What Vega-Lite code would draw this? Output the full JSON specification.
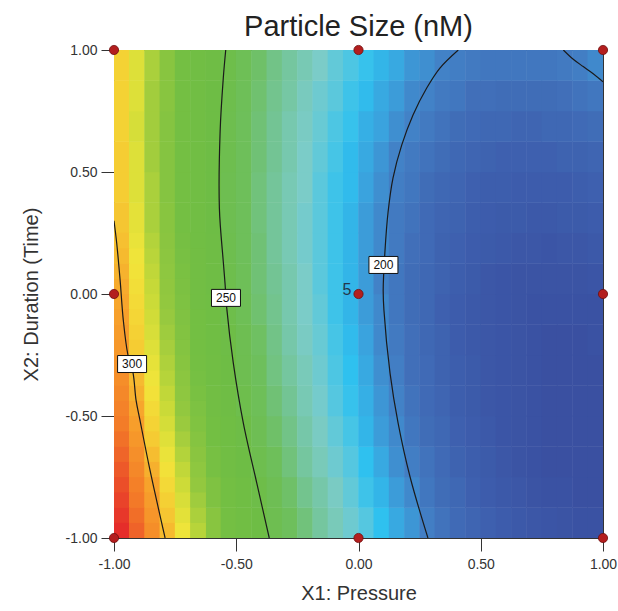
{
"$schema":"https://vega.github.io/schema/vega-lite/v6.json",
"width":489,"height":488,
"autosize":"none",
"padding":{"left":114,"top":50,"right":15,"bottom":73},
"background":"white",
"title":{"text":"Particle Size (nM)","font":"Liberation Sans","fontSize":29,"fontWeight":"normal","color":"#222222","anchor":"middle","frame":"group","offset":6,"baseline":"bottom","dy":34},
"config":{"view":{"stroke":"#333333","strokeWidth":1},
"axis":{"labelFont":"Liberation Sans","labelFontSize":14,"labelColor":"#333333","titleFont":"Liberation Sans","titleFontSize":20,"titleFontWeight":"normal","titleColor":"#333333","tickColor":"#333333","domainColor":"#333333","tickSize":13,"grid":false,"labelFlush":false,"labelOverlap":false}},
"datasets":{
"points":[{"x":-1,"y":-1},{"x":0,"y":-1},{"x":1,"y":-1},{"x":-1,"y":0},{"x":0,"y":0},{"x":1,"y":0},{"x":-1,"y":1},{"x":0,"y":1},{"x":1,"y":1}],
"runs":[{"x":0,"y":0,"t":"5"}],
"labels":[{"x":0.102,"y":0.119,"t":"200"},{"x":-0.542,"y":-0.016,"t":"250"},{"x":-0.926,"y":-0.287,"t":"300"}],
"contours":[
{"c":"a","o":0,"x":0.408,"y":1.0},{"c":"a","o":1,"x":0.333,"y":0.926},{"c":"a","o":2,"x":0.279,"y":0.844},{"c":"a","o":3,"x":0.223,"y":0.734},{"c":"a","o":4,"x":0.177,"y":0.611},{"c":"a","o":5,"x":0.141,"y":0.475},{"c":"a","o":6,"x":0.121,"y":0.336},{"c":"a","o":7,"x":0.108,"y":0.172},{"c":"a","o":8,"x":0.101,"y":0.016},{"c":"a","o":9,"x":0.104,"y":-0.066},{"c":"a","o":10,"x":0.129,"y":-0.324},{"c":"a","o":11,"x":0.162,"y":-0.529},{"c":"a","o":12,"x":0.211,"y":-0.75},{"c":"a","o":13,"x":0.284,"y":-1.0},
{"c":"b","o":0,"x":0.838,"y":1.0},{"c":"b","o":1,"x":0.877,"y":0.963},{"c":"b","o":2,"x":0.919,"y":0.932},{"c":"b","o":3,"x":0.96,"y":0.903},{"c":"b","o":4,"x":1.0,"y":0.87},
{"c":"c","o":0,"x":-0.543,"y":1.0},{"c":"c","o":1,"x":-0.553,"y":0.885},{"c":"c","o":2,"x":-0.566,"y":0.665},{"c":"c","o":3,"x":-0.569,"y":0.352},{"c":"c","o":4,"x":-0.553,"y":0.132},{"c":"c","o":5,"x":-0.546,"y":0.045},{"c":"c","o":6,"x":-0.539,"y":-0.057},{"c":"c","o":7,"x":-0.512,"y":-0.283},{"c":"c","o":8,"x":-0.471,"y":-0.529},{"c":"c","o":9,"x":-0.416,"y":-0.775},{"c":"c","o":10,"x":-0.365,"y":-1.0},
{"c":"d","o":0,"x":-1.0,"y":0.3},{"c":"d","o":1,"x":-0.989,"y":0.209},{"c":"d","o":2,"x":-0.975,"y":0.057},{"c":"d","o":3,"x":-0.962,"y":-0.107},{"c":"d","o":4,"x":-0.943,"y":-0.25},{"c":"d","o":5,"x":-0.922,"y":-0.324},{"c":"d","o":6,"x":-0.91,"y":-0.434},{"c":"d","o":7,"x":-0.894,"y":-0.516},{"c":"d","o":8,"x":-0.853,"y":-0.721},{"c":"d","o":9,"x":-0.791,"y":-1.0}
],
"fine":[
{"x":-0.96875,"y":-0.96875,"z":323.7},{"x":-0.90625,"y":-0.96875,"z":314.8},{"x":-0.84375,"y":-0.96875,"z":306.1},{"x":-0.78125,"y":-0.96875,"z":297.7},{"x":-0.71875,"y":-0.96875,"z":289.5},{"x":-0.65625,"y":-0.96875,"z":281.7},
{"x":-0.96875,"y":-0.90625,"z":321.9},{"x":-0.90625,"y":-0.90625,"z":313.0},{"x":-0.84375,"y":-0.90625,"z":304.3},{"x":-0.78125,"y":-0.90625,"z":296.0},{"x":-0.71875,"y":-0.90625,"z":287.9},{"x":-0.65625,"y":-0.90625,"z":280.1},
{"x":-0.96875,"y":-0.84375,"z":320.1},{"x":-0.90625,"y":-0.84375,"z":311.2},{"x":-0.84375,"y":-0.84375,"z":302.6},{"x":-0.78125,"y":-0.84375,"z":294.3},{"x":-0.71875,"y":-0.84375,"z":286.2},{"x":-0.65625,"y":-0.84375,"z":278.5},
{"x":-0.96875,"y":-0.78125,"z":318.3},{"x":-0.90625,"y":-0.78125,"z":309.4},{"x":-0.84375,"y":-0.78125,"z":300.8},{"x":-0.78125,"y":-0.78125,"z":292.5},{"x":-0.71875,"y":-0.78125,"z":284.6},{"x":-0.65625,"y":-0.78125,"z":276.9},
{"x":-0.96875,"y":-0.71875,"z":316.4},{"x":-0.90625,"y":-0.71875,"z":307.5},{"x":-0.84375,"y":-0.71875,"z":299.0},{"x":-0.78125,"y":-0.71875,"z":290.8},{"x":-0.71875,"y":-0.71875,"z":282.9},{"x":-0.65625,"y":-0.71875,"z":275.3},
{"x":-0.96875,"y":-0.65625,"z":314.4},{"x":-0.90625,"y":-0.65625,"z":305.7},{"x":-0.84375,"y":-0.65625,"z":297.2},{"x":-0.78125,"y":-0.65625,"z":289.0},{"x":-0.71875,"y":-0.65625,"z":281.2},{"x":-0.65625,"y":-0.65625,"z":273.7},
{"x":-0.96875,"y":-0.59375,"z":312.4},{"x":-0.90625,"y":-0.59375,"z":303.8},{"x":-0.84375,"y":-0.59375,"z":295.3},{"x":-0.78125,"y":-0.59375,"z":287.3},{"x":-0.71875,"y":-0.59375,"z":279.5},{"x":-0.65625,"y":-0.59375,"z":271.9},
{"x":-0.96875,"y":-0.53125,"z":310.6},{"x":-0.90625,"y":-0.53125,"z":302.0},{"x":-0.84375,"y":-0.53125,"z":293.7},{"x":-0.78125,"y":-0.53125,"z":285.7},{"x":-0.71875,"y":-0.53125,"z":277.9},{"x":-0.65625,"y":-0.53125,"z":270.4},
{"x":-0.96875,"y":-0.46875,"z":308.9},{"x":-0.90625,"y":-0.46875,"z":300.4},{"x":-0.84375,"y":-0.46875,"z":292.2},{"x":-0.78125,"y":-0.46875,"z":284.2},{"x":-0.71875,"y":-0.46875,"z":276.5},{"x":-0.65625,"y":-0.46875,"z":269.1},
{"x":-0.96875,"y":-0.40625,"z":307.4},{"x":-0.90625,"y":-0.40625,"z":298.9},{"x":-0.84375,"y":-0.40625,"z":290.8},{"x":-0.78125,"y":-0.40625,"z":282.9},{"x":-0.71875,"y":-0.40625,"z":275.2},{"x":-0.65625,"y":-0.40625,"z":267.9},
{"x":-0.96875,"y":-0.34375,"z":306.1},{"x":-0.90625,"y":-0.34375,"z":297.6},{"x":-0.84375,"y":-0.34375,"z":289.5},{"x":-0.78125,"y":-0.34375,"z":281.6},{"x":-0.71875,"y":-0.34375,"z":274.0},{"x":-0.65625,"y":-0.34375,"z":266.8},
{"x":-0.96875,"y":-0.28125,"z":304.8},{"x":-0.90625,"y":-0.28125,"z":296.3},{"x":-0.84375,"y":-0.28125,"z":288.3},{"x":-0.78125,"y":-0.28125,"z":280.5},{"x":-0.71875,"y":-0.28125,"z":272.9},{"x":-0.65625,"y":-0.28125,"z":265.7},
{"x":-0.96875,"y":-0.21875,"z":303.5},{"x":-0.90625,"y":-0.21875,"z":295.2},{"x":-0.84375,"y":-0.21875,"z":287.2},{"x":-0.78125,"y":-0.21875,"z":279.4},{"x":-0.71875,"y":-0.21875,"z":271.8},{"x":-0.65625,"y":-0.21875,"z":264.7},
{"x":-0.96875,"y":-0.15625,"z":302.4},{"x":-0.90625,"y":-0.15625,"z":294.1},{"x":-0.84375,"y":-0.15625,"z":286.1},{"x":-0.78125,"y":-0.15625,"z":278.4},{"x":-0.71875,"y":-0.15625,"z":270.9},{"x":-0.65625,"y":-0.15625,"z":263.8},
{"x":-0.96875,"y":-0.09375,"z":301.4},{"x":-0.90625,"y":-0.09375,"z":293.2},{"x":-0.84375,"y":-0.09375,"z":285.2},{"x":-0.78125,"y":-0.09375,"z":277.5},{"x":-0.71875,"y":-0.09375,"z":270.1},{"x":-0.65625,"y":-0.09375,"z":263.0},
{"x":-0.96875,"y":-0.03125,"z":300.5},{"x":-0.90625,"y":-0.03125,"z":292.3},{"x":-0.84375,"y":-0.03125,"z":284.3},{"x":-0.78125,"y":-0.03125,"z":276.7},{"x":-0.71875,"y":-0.03125,"z":269.4},{"x":-0.65625,"y":-0.03125,"z":262.3},
{"x":-0.96875,"y":0.03125,"z":299.7},{"x":-0.90625,"y":0.03125,"z":291.5},{"x":-0.84375,"y":0.03125,"z":283.6},{"x":-0.78125,"y":0.03125,"z":276.0},{"x":-0.71875,"y":0.03125,"z":268.7},{"x":-0.65625,"y":0.03125,"z":261.7},
{"x":-0.96875,"y":0.09375,"z":298.8},{"x":-0.90625,"y":0.09375,"z":290.6},{"x":-0.84375,"y":0.09375,"z":282.8},{"x":-0.78125,"y":0.09375,"z":275.3},{"x":-0.71875,"y":0.09375,"z":268.0},{"x":-0.65625,"y":0.09375,"z":261.1},
{"x":-0.96875,"y":0.15625,"z":297.7},{"x":-0.90625,"y":0.15625,"z":289.7},{"x":-0.84375,"y":0.15625,"z":281.9},{"x":-0.78125,"y":0.15625,"z":274.5},{"x":-0.71875,"y":0.15625,"z":267.3},{"x":-0.65625,"y":0.15625,"z":260.4},
{"x":-0.96875,"y":0.21875,"z":296.8},{"x":-0.90625,"y":0.21875,"z":288.8},{"x":-0.84375,"y":0.21875,"z":281.1},{"x":-0.78125,"y":0.21875,"z":273.8},{"x":-0.71875,"y":0.21875,"z":266.6},{"x":-0.65625,"y":0.21875,"z":259.9}
],
"grid":[
{"x":-0.96875,"y":-0.9375,"z":323},{"x":-0.90625,"y":-0.9375,"z":314},{"x":-0.84375,"y":-0.9375,"z":305},{"x":-0.78125,"y":-0.9375,"z":297},{"x":-0.71875,"y":-0.9375,"z":289},{"x":-0.65625,"y":-0.9375,"z":281},{"x":-0.59375,"y":-0.9375,"z":273},{"x":-0.53125,"y":-0.9375,"z":266},{"x":-0.46875,"y":-0.9375,"z":259},{"x":-0.40625,"y":-0.9375,"z":253},{"x":-0.34375,"y":-0.9375,"z":246},{"x":-0.28125,"y":-0.9375,"z":240},{"x":-0.21875,"y":-0.9375,"z":235},{"x":-0.15625,"y":-0.9375,"z":229},{"x":-0.09375,"y":-0.9375,"z":224},{"x":-0.03125,"y":-0.9375,"z":219},{"x":0.03125,"y":-0.9375,"z":215},{"x":0.09375,"y":-0.9375,"z":210},{"x":0.15625,"y":-0.9375,"z":206},{"x":0.21875,"y":-0.9375,"z":203},{"x":0.28125,"y":-0.9375,"z":199},{"x":0.34375,"y":-0.9375,"z":196},{"x":0.40625,"y":-0.9375,"z":193},{"x":0.46875,"y":-0.9375,"z":191},{"x":0.53125,"y":-0.9375,"z":189},{"x":0.59375,"y":-0.9375,"z":187},{"x":0.65625,"y":-0.9375,"z":185},{"x":0.71875,"y":-0.9375,"z":184},{"x":0.78125,"y":-0.9375,"z":183},{"x":0.84375,"y":-0.9375,"z":182},{"x":0.90625,"y":-0.9375,"z":181},{"x":0.96875,"y":-0.9375,"z":181},
{"x":-0.96875,"y":-0.8125,"z":319},{"x":-0.90625,"y":-0.8125,"z":310},{"x":-0.84375,"y":-0.8125,"z":302},{"x":-0.78125,"y":-0.8125,"z":293},{"x":-0.71875,"y":-0.8125,"z":285},{"x":-0.65625,"y":-0.8125,"z":278},{"x":-0.59375,"y":-0.8125,"z":270},{"x":-0.53125,"y":-0.8125,"z":263},{"x":-0.46875,"y":-0.8125,"z":256},{"x":-0.40625,"y":-0.8125,"z":250},{"x":-0.34375,"y":-0.8125,"z":244},{"x":-0.28125,"y":-0.8125,"z":238},{"x":-0.21875,"y":-0.8125,"z":232},{"x":-0.15625,"y":-0.8125,"z":227},{"x":-0.09375,"y":-0.8125,"z":222},{"x":-0.03125,"y":-0.8125,"z":217},{"x":0.03125,"y":-0.8125,"z":212},{"x":0.09375,"y":-0.8125,"z":208},{"x":0.15625,"y":-0.8125,"z":204},{"x":0.21875,"y":-0.8125,"z":201},{"x":0.28125,"y":-0.8125,"z":197},{"x":0.34375,"y":-0.8125,"z":194},{"x":0.40625,"y":-0.8125,"z":192},{"x":0.46875,"y":-0.8125,"z":189},{"x":0.53125,"y":-0.8125,"z":187},{"x":0.59375,"y":-0.8125,"z":185},{"x":0.65625,"y":-0.8125,"z":184},{"x":0.71875,"y":-0.8125,"z":182},{"x":0.78125,"y":-0.8125,"z":181},{"x":0.84375,"y":-0.8125,"z":181},{"x":0.90625,"y":-0.8125,"z":180},{"x":0.96875,"y":-0.8125,"z":180},
{"x":-0.96875,"y":-0.6875,"z":315},{"x":-0.90625,"y":-0.6875,"z":307},{"x":-0.84375,"y":-0.6875,"z":298},{"x":-0.78125,"y":-0.6875,"z":290},{"x":-0.71875,"y":-0.6875,"z":282},{"x":-0.65625,"y":-0.6875,"z":274},{"x":-0.59375,"y":-0.6875,"z":267},{"x":-0.53125,"y":-0.6875,"z":260},{"x":-0.46875,"y":-0.6875,"z":253},{"x":-0.40625,"y":-0.6875,"z":247},{"x":-0.34375,"y":-0.6875,"z":241},{"x":-0.28125,"y":-0.6875,"z":235},{"x":-0.21875,"y":-0.6875,"z":229},{"x":-0.15625,"y":-0.6875,"z":224},{"x":-0.09375,"y":-0.6875,"z":219},{"x":-0.03125,"y":-0.6875,"z":215},{"x":0.03125,"y":-0.6875,"z":210},{"x":0.09375,"y":-0.6875,"z":206},{"x":0.15625,"y":-0.6875,"z":202},{"x":0.21875,"y":-0.6875,"z":199},{"x":0.28125,"y":-0.6875,"z":196},{"x":0.34375,"y":-0.6875,"z":193},{"x":0.40625,"y":-0.6875,"z":190},{"x":0.46875,"y":-0.6875,"z":188},{"x":0.53125,"y":-0.6875,"z":186},{"x":0.59375,"y":-0.6875,"z":184},{"x":0.65625,"y":-0.6875,"z":182},{"x":0.71875,"y":-0.6875,"z":181},{"x":0.78125,"y":-0.6875,"z":180},{"x":0.84375,"y":-0.6875,"z":180},{"x":0.90625,"y":-0.6875,"z":180},{"x":0.96875,"y":-0.6875,"z":180},
{"x":-0.96875,"y":-0.5625,"z":311},{"x":-0.90625,"y":-0.5625,"z":303},{"x":-0.84375,"y":-0.5625,"z":294},{"x":-0.78125,"y":-0.5625,"z":286},{"x":-0.71875,"y":-0.5625,"z":279},{"x":-0.65625,"y":-0.5625,"z":271},{"x":-0.59375,"y":-0.5625,"z":264},{"x":-0.53125,"y":-0.5625,"z":257},{"x":-0.46875,"y":-0.5625,"z":251},{"x":-0.40625,"y":-0.5625,"z":244},{"x":-0.34375,"y":-0.5625,"z":238},{"x":-0.28125,"y":-0.5625,"z":233},{"x":-0.21875,"y":-0.5625,"z":227},{"x":-0.15625,"y":-0.5625,"z":222},{"x":-0.09375,"y":-0.5625,"z":217},{"x":-0.03125,"y":-0.5625,"z":213},{"x":0.03125,"y":-0.5625,"z":208},{"x":0.09375,"y":-0.5625,"z":204},{"x":0.15625,"y":-0.5625,"z":201},{"x":0.21875,"y":-0.5625,"z":197},{"x":0.28125,"y":-0.5625,"z":194},{"x":0.34375,"y":-0.5625,"z":192},{"x":0.40625,"y":-0.5625,"z":189},{"x":0.46875,"y":-0.5625,"z":187},{"x":0.53125,"y":-0.5625,"z":185},{"x":0.59375,"y":-0.5625,"z":183},{"x":0.65625,"y":-0.5625,"z":182},{"x":0.71875,"y":-0.5625,"z":181},{"x":0.78125,"y":-0.5625,"z":180},{"x":0.84375,"y":-0.5625,"z":180},{"x":0.90625,"y":-0.5625,"z":180},{"x":0.96875,"y":-0.5625,"z":180},
{"x":-0.96875,"y":-0.4375,"z":308},{"x":-0.90625,"y":-0.4375,"z":300},{"x":-0.84375,"y":-0.4375,"z":291},{"x":-0.78125,"y":-0.4375,"z":284},{"x":-0.71875,"y":-0.4375,"z":276},{"x":-0.65625,"y":-0.4375,"z":268},{"x":-0.59375,"y":-0.4375,"z":261},{"x":-0.53125,"y":-0.4375,"z":255},{"x":-0.46875,"y":-0.4375,"z":248},{"x":-0.40625,"y":-0.4375,"z":242},{"x":-0.34375,"y":-0.4375,"z":236},{"x":-0.28125,"y":-0.4375,"z":231},{"x":-0.21875,"y":-0.4375,"z":225},{"x":-0.15625,"y":-0.4375,"z":220},{"x":-0.09375,"y":-0.4375,"z":215},{"x":-0.03125,"y":-0.4375,"z":211},{"x":0.03125,"y":-0.4375,"z":207},{"x":0.09375,"y":-0.4375,"z":203},{"x":0.15625,"y":-0.4375,"z":200},{"x":0.21875,"y":-0.4375,"z":196},{"x":0.28125,"y":-0.4375,"z":193},{"x":0.34375,"y":-0.4375,"z":191},{"x":0.40625,"y":-0.4375,"z":188},{"x":0.46875,"y":-0.4375,"z":186},{"x":0.53125,"y":-0.4375,"z":184},{"x":0.59375,"y":-0.4375,"z":183},{"x":0.65625,"y":-0.4375,"z":182},{"x":0.71875,"y":-0.4375,"z":181},{"x":0.78125,"y":-0.4375,"z":180},{"x":0.84375,"y":-0.4375,"z":180},{"x":0.90625,"y":-0.4375,"z":180},{"x":0.96875,"y":-0.4375,"z":180},
{"x":-0.96875,"y":-0.3125,"z":305},{"x":-0.90625,"y":-0.3125,"z":297},{"x":-0.84375,"y":-0.3125,"z":289},{"x":-0.78125,"y":-0.3125,"z":281},{"x":-0.71875,"y":-0.3125,"z":273},{"x":-0.65625,"y":-0.3125,"z":266},{"x":-0.59375,"y":-0.3125,"z":259},{"x":-0.53125,"y":-0.3125,"z":253},{"x":-0.46875,"y":-0.3125,"z":246},{"x":-0.40625,"y":-0.3125,"z":240},{"x":-0.34375,"y":-0.3125,"z":234},{"x":-0.28125,"y":-0.3125,"z":229},{"x":-0.21875,"y":-0.3125,"z":224},{"x":-0.15625,"y":-0.3125,"z":219},{"x":-0.09375,"y":-0.3125,"z":214},{"x":-0.03125,"y":-0.3125,"z":210},{"x":0.03125,"y":-0.3125,"z":206},{"x":0.09375,"y":-0.3125,"z":202},{"x":0.15625,"y":-0.3125,"z":199},{"x":0.21875,"y":-0.3125,"z":195},{"x":0.28125,"y":-0.3125,"z":193},{"x":0.34375,"y":-0.3125,"z":190},{"x":0.40625,"y":-0.3125,"z":188},{"x":0.46875,"y":-0.3125,"z":186},{"x":0.53125,"y":-0.3125,"z":184},{"x":0.59375,"y":-0.3125,"z":183},{"x":0.65625,"y":-0.3125,"z":182},{"x":0.71875,"y":-0.3125,"z":181},{"x":0.78125,"y":-0.3125,"z":180},{"x":0.84375,"y":-0.3125,"z":180},{"x":0.90625,"y":-0.3125,"z":180},{"x":0.96875,"y":-0.3125,"z":180},
{"x":-0.96875,"y":-0.1875,"z":303},{"x":-0.90625,"y":-0.1875,"z":295},{"x":-0.84375,"y":-0.1875,"z":287},{"x":-0.78125,"y":-0.1875,"z":279},{"x":-0.71875,"y":-0.1875,"z":271},{"x":-0.65625,"y":-0.1875,"z":264},{"x":-0.59375,"y":-0.1875,"z":257},{"x":-0.53125,"y":-0.1875,"z":251},{"x":-0.46875,"y":-0.1875,"z":245},{"x":-0.40625,"y":-0.1875,"z":239},{"x":-0.34375,"y":-0.1875,"z":233},{"x":-0.28125,"y":-0.1875,"z":227},{"x":-0.21875,"y":-0.1875,"z":222},{"x":-0.15625,"y":-0.1875,"z":218},{"x":-0.09375,"y":-0.1875,"z":213},{"x":-0.03125,"y":-0.1875,"z":209},{"x":0.03125,"y":-0.1875,"z":205},{"x":0.09375,"y":-0.1875,"z":201},{"x":0.15625,"y":-0.1875,"z":198},{"x":0.21875,"y":-0.1875,"z":195},{"x":0.28125,"y":-0.1875,"z":192},{"x":0.34375,"y":-0.1875,"z":190},{"x":0.40625,"y":-0.1875,"z":187},{"x":0.46875,"y":-0.1875,"z":185},{"x":0.53125,"y":-0.1875,"z":184},{"x":0.59375,"y":-0.1875,"z":183},{"x":0.65625,"y":-0.1875,"z":182},{"x":0.71875,"y":-0.1875,"z":181},{"x":0.78125,"y":-0.1875,"z":180},{"x":0.84375,"y":-0.1875,"z":180},{"x":0.90625,"y":-0.1875,"z":180},{"x":0.96875,"y":-0.1875,"z":181},
{"x":-0.96875,"y":-0.0625,"z":301},{"x":-0.90625,"y":-0.0625,"z":293},{"x":-0.84375,"y":-0.0625,"z":285},{"x":-0.78125,"y":-0.0625,"z":277},{"x":-0.71875,"y":-0.0625,"z":270},{"x":-0.65625,"y":-0.0625,"z":263},{"x":-0.59375,"y":-0.0625,"z":256},{"x":-0.53125,"y":-0.0625,"z":249},{"x":-0.46875,"y":-0.0625,"z":243},{"x":-0.40625,"y":-0.0625,"z":237},{"x":-0.34375,"y":-0.0625,"z":232},{"x":-0.28125,"y":-0.0625,"z":226},{"x":-0.21875,"y":-0.0625,"z":221},{"x":-0.15625,"y":-0.0625,"z":217},{"x":-0.09375,"y":-0.0625,"z":212},{"x":-0.03125,"y":-0.0625,"z":208},{"x":0.03125,"y":-0.0625,"z":204},{"x":0.09375,"y":-0.0625,"z":201},{"x":0.15625,"y":-0.0625,"z":197},{"x":0.21875,"y":-0.0625,"z":194},{"x":0.28125,"y":-0.0625,"z":192},{"x":0.34375,"y":-0.0625,"z":189},{"x":0.40625,"y":-0.0625,"z":187},{"x":0.46875,"y":-0.0625,"z":185},{"x":0.53125,"y":-0.0625,"z":184},{"x":0.59375,"y":-0.0625,"z":183},{"x":0.65625,"y":-0.0625,"z":182},{"x":0.71875,"y":-0.0625,"z":181},{"x":0.78125,"y":-0.0625,"z":181},{"x":0.84375,"y":-0.0625,"z":181},{"x":0.90625,"y":-0.0625,"z":181},{"x":0.96875,"y":-0.0625,"z":181},
{"x":-0.96875,"y":0.0625,"z":299},{"x":-0.90625,"y":0.0625,"z":291},{"x":-0.84375,"y":0.0625,"z":283},{"x":-0.78125,"y":0.0625,"z":276},{"x":-0.71875,"y":0.0625,"z":268},{"x":-0.65625,"y":0.0625,"z":261},{"x":-0.59375,"y":0.0625,"z":255},{"x":-0.53125,"y":0.0625,"z":248},{"x":-0.46875,"y":0.0625,"z":242},{"x":-0.40625,"y":0.0625,"z":236},{"x":-0.34375,"y":0.0625,"z":231},{"x":-0.28125,"y":0.0625,"z":226},{"x":-0.21875,"y":0.0625,"z":221},{"x":-0.15625,"y":0.0625,"z":216},{"x":-0.09375,"y":0.0625,"z":212},{"x":-0.03125,"y":0.0625,"z":208},{"x":0.03125,"y":0.0625,"z":204},{"x":0.09375,"y":0.0625,"z":200},{"x":0.15625,"y":0.0625,"z":197},{"x":0.21875,"y":0.0625,"z":194},{"x":0.28125,"y":0.0625,"z":192},{"x":0.34375,"y":0.0625,"z":190},{"x":0.40625,"y":0.0625,"z":188},{"x":0.46875,"y":0.0625,"z":186},{"x":0.53125,"y":0.0625,"z":184},{"x":0.59375,"y":0.0625,"z":183},{"x":0.65625,"y":0.0625,"z":182},{"x":0.71875,"y":0.0625,"z":182},{"x":0.78125,"y":0.0625,"z":182},{"x":0.84375,"y":0.0625,"z":182},{"x":0.90625,"y":0.0625,"z":182},{"x":0.96875,"y":0.0625,"z":183},
{"x":-0.96875,"y":0.1875,"z":297},{"x":-0.90625,"y":0.1875,"z":289},{"x":-0.84375,"y":0.1875,"z":282},{"x":-0.78125,"y":0.1875,"z":274},{"x":-0.71875,"y":0.1875,"z":267},{"x":-0.65625,"y":0.1875,"z":260},{"x":-0.59375,"y":0.1875,"z":254},{"x":-0.53125,"y":0.1875,"z":247},{"x":-0.46875,"y":0.1875,"z":241},{"x":-0.40625,"y":0.1875,"z":236},{"x":-0.34375,"y":0.1875,"z":230},{"x":-0.28125,"y":0.1875,"z":225},{"x":-0.21875,"y":0.1875,"z":220},{"x":-0.15625,"y":0.1875,"z":216},{"x":-0.09375,"y":0.1875,"z":212},{"x":-0.03125,"y":0.1875,"z":208},{"x":0.03125,"y":0.1875,"z":204},{"x":0.09375,"y":0.1875,"z":201},{"x":0.15625,"y":0.1875,"z":198},{"x":0.21875,"y":0.1875,"z":195},{"x":0.28125,"y":0.1875,"z":193},{"x":0.34375,"y":0.1875,"z":190},{"x":0.40625,"y":0.1875,"z":189},{"x":0.46875,"y":0.1875,"z":187},{"x":0.53125,"y":0.1875,"z":186},{"x":0.59375,"y":0.1875,"z":185},{"x":0.65625,"y":0.1875,"z":184},{"x":0.71875,"y":0.1875,"z":184},{"x":0.78125,"y":0.1875,"z":183},{"x":0.84375,"y":0.1875,"z":184},{"x":0.90625,"y":0.1875,"z":184},{"x":0.96875,"y":0.1875,"z":185},
{"x":-0.96875,"y":0.3125,"z":296},{"x":-0.90625,"y":0.3125,"z":288},{"x":-0.84375,"y":0.3125,"z":280},{"x":-0.78125,"y":0.3125,"z":273},{"x":-0.71875,"y":0.3125,"z":266},{"x":-0.65625,"y":0.3125,"z":259},{"x":-0.59375,"y":0.3125,"z":253},{"x":-0.53125,"y":0.3125,"z":246},{"x":-0.46875,"y":0.3125,"z":241},{"x":-0.40625,"y":0.3125,"z":235},{"x":-0.34375,"y":0.3125,"z":230},{"x":-0.28125,"y":0.3125,"z":225},{"x":-0.21875,"y":0.3125,"z":220},{"x":-0.15625,"y":0.3125,"z":216},{"x":-0.09375,"y":0.3125,"z":212},{"x":-0.03125,"y":0.3125,"z":208},{"x":0.03125,"y":0.3125,"z":204},{"x":0.09375,"y":0.3125,"z":201},{"x":0.15625,"y":0.3125,"z":198},{"x":0.21875,"y":0.3125,"z":196},{"x":0.28125,"y":0.3125,"z":193},{"x":0.34375,"y":0.3125,"z":191},{"x":0.40625,"y":0.3125,"z":190},{"x":0.46875,"y":0.3125,"z":188},{"x":0.53125,"y":0.3125,"z":187},{"x":0.59375,"y":0.3125,"z":186},{"x":0.65625,"y":0.3125,"z":186},{"x":0.71875,"y":0.3125,"z":185},{"x":0.78125,"y":0.3125,"z":185},{"x":0.84375,"y":0.3125,"z":186},{"x":0.90625,"y":0.3125,"z":186},{"x":0.96875,"y":0.3125,"z":187},
{"x":-0.96875,"y":0.4375,"z":295},{"x":-0.90625,"y":0.4375,"z":287},{"x":-0.84375,"y":0.4375,"z":280},{"x":-0.78125,"y":0.4375,"z":272},{"x":-0.71875,"y":0.4375,"z":265},{"x":-0.65625,"y":0.4375,"z":259},{"x":-0.59375,"y":0.4375,"z":252},{"x":-0.53125,"y":0.4375,"z":246},{"x":-0.46875,"y":0.4375,"z":241},{"x":-0.40625,"y":0.4375,"z":235},{"x":-0.34375,"y":0.4375,"z":230},{"x":-0.28125,"y":0.4375,"z":225},{"x":-0.21875,"y":0.4375,"z":221},{"x":-0.15625,"y":0.4375,"z":216},{"x":-0.09375,"y":0.4375,"z":212},{"x":-0.03125,"y":0.4375,"z":209},{"x":0.03125,"y":0.4375,"z":205},{"x":0.09375,"y":0.4375,"z":202},{"x":0.15625,"y":0.4375,"z":199},{"x":0.21875,"y":0.4375,"z":197},{"x":0.28125,"y":0.4375,"z":194},{"x":0.34375,"y":0.4375,"z":192},{"x":0.40625,"y":0.4375,"z":191},{"x":0.46875,"y":0.4375,"z":189},{"x":0.53125,"y":0.4375,"z":188},{"x":0.59375,"y":0.4375,"z":188},{"x":0.65625,"y":0.4375,"z":187},{"x":0.71875,"y":0.4375,"z":187},{"x":0.78125,"y":0.4375,"z":187},{"x":0.84375,"y":0.4375,"z":187},{"x":0.90625,"y":0.4375,"z":188},{"x":0.96875,"y":0.4375,"z":189},
{"x":-0.96875,"y":0.5625,"z":295},{"x":-0.90625,"y":0.5625,"z":287},{"x":-0.84375,"y":0.5625,"z":279},{"x":-0.78125,"y":0.5625,"z":272},{"x":-0.71875,"y":0.5625,"z":265},{"x":-0.65625,"y":0.5625,"z":259},{"x":-0.59375,"y":0.5625,"z":253},{"x":-0.53125,"y":0.5625,"z":247},{"x":-0.46875,"y":0.5625,"z":241},{"x":-0.40625,"y":0.5625,"z":236},{"x":-0.34375,"y":0.5625,"z":231},{"x":-0.28125,"y":0.5625,"z":226},{"x":-0.21875,"y":0.5625,"z":221},{"x":-0.15625,"y":0.5625,"z":217},{"x":-0.09375,"y":0.5625,"z":213},{"x":-0.03125,"y":0.5625,"z":209},{"x":0.03125,"y":0.5625,"z":206},{"x":0.09375,"y":0.5625,"z":203},{"x":0.15625,"y":0.5625,"z":200},{"x":0.21875,"y":0.5625,"z":198},{"x":0.28125,"y":0.5625,"z":196},{"x":0.34375,"y":0.5625,"z":194},{"x":0.40625,"y":0.5625,"z":192},{"x":0.46875,"y":0.5625,"z":191},{"x":0.53125,"y":0.5625,"z":190},{"x":0.59375,"y":0.5625,"z":189},{"x":0.65625,"y":0.5625,"z":189},{"x":0.71875,"y":0.5625,"z":189},{"x":0.78125,"y":0.5625,"z":189},{"x":0.84375,"y":0.5625,"z":190},{"x":0.90625,"y":0.5625,"z":190},{"x":0.96875,"y":0.5625,"z":191},
{"x":-0.96875,"y":0.6875,"z":294},{"x":-0.90625,"y":0.6875,"z":286},{"x":-0.84375,"y":0.6875,"z":279},{"x":-0.78125,"y":0.6875,"z":272},{"x":-0.71875,"y":0.6875,"z":265},{"x":-0.65625,"y":0.6875,"z":259},{"x":-0.59375,"y":0.6875,"z":253},{"x":-0.53125,"y":0.6875,"z":247},{"x":-0.46875,"y":0.6875,"z":241},{"x":-0.40625,"y":0.6875,"z":236},{"x":-0.34375,"y":0.6875,"z":231},{"x":-0.28125,"y":0.6875,"z":226},{"x":-0.21875,"y":0.6875,"z":222},{"x":-0.15625,"y":0.6875,"z":218},{"x":-0.09375,"y":0.6875,"z":214},{"x":-0.03125,"y":0.6875,"z":211},{"x":0.03125,"y":0.6875,"z":207},{"x":0.09375,"y":0.6875,"z":205},{"x":0.15625,"y":0.6875,"z":202},{"x":0.21875,"y":0.6875,"z":200},{"x":0.28125,"y":0.6875,"z":198},{"x":0.34375,"y":0.6875,"z":196},{"x":0.40625,"y":0.6875,"z":194},{"x":0.46875,"y":0.6875,"z":193},{"x":0.53125,"y":0.6875,"z":192},{"x":0.59375,"y":0.6875,"z":192},{"x":0.65625,"y":0.6875,"z":191},{"x":0.71875,"y":0.6875,"z":191},{"x":0.78125,"y":0.6875,"z":192},{"x":0.84375,"y":0.6875,"z":192},{"x":0.90625,"y":0.6875,"z":193},{"x":0.96875,"y":0.6875,"z":194},
{"x":-0.96875,"y":0.8125,"z":294},{"x":-0.90625,"y":0.8125,"z":287},{"x":-0.84375,"y":0.8125,"z":279},{"x":-0.78125,"y":0.8125,"z":273},{"x":-0.71875,"y":0.8125,"z":266},{"x":-0.65625,"y":0.8125,"z":260},{"x":-0.59375,"y":0.8125,"z":253},{"x":-0.53125,"y":0.8125,"z":248},{"x":-0.46875,"y":0.8125,"z":242},{"x":-0.40625,"y":0.8125,"z":237},{"x":-0.34375,"y":0.8125,"z":232},{"x":-0.28125,"y":0.8125,"z":228},{"x":-0.21875,"y":0.8125,"z":223},{"x":-0.15625,"y":0.8125,"z":219},{"x":-0.09375,"y":0.8125,"z":216},{"x":-0.03125,"y":0.8125,"z":212},{"x":0.03125,"y":0.8125,"z":209},{"x":0.09375,"y":0.8125,"z":206},{"x":0.15625,"y":0.8125,"z":204},{"x":0.21875,"y":0.8125,"z":201},{"x":0.28125,"y":0.8125,"z":200},{"x":0.34375,"y":0.8125,"z":198},{"x":0.40625,"y":0.8125,"z":197},{"x":0.46875,"y":0.8125,"z":195},{"x":0.53125,"y":0.8125,"z":195},{"x":0.59375,"y":0.8125,"z":194},{"x":0.65625,"y":0.8125,"z":194},{"x":0.71875,"y":0.8125,"z":194},{"x":0.78125,"y":0.8125,"z":194},{"x":0.84375,"y":0.8125,"z":195},{"x":0.90625,"y":0.8125,"z":196},{"x":0.96875,"y":0.8125,"z":197},
{"x":-0.96875,"y":0.9375,"z":294},{"x":-0.90625,"y":0.9375,"z":287},{"x":-0.84375,"y":0.9375,"z":280},{"x":-0.78125,"y":0.9375,"z":273},{"x":-0.71875,"y":0.9375,"z":266},{"x":-0.65625,"y":0.9375,"z":260},{"x":-0.59375,"y":0.9375,"z":254},{"x":-0.53125,"y":0.9375,"z":249},{"x":-0.46875,"y":0.9375,"z":243},{"x":-0.40625,"y":0.9375,"z":238},{"x":-0.34375,"y":0.9375,"z":233},{"x":-0.28125,"y":0.9375,"z":229},{"x":-0.21875,"y":0.9375,"z":225},{"x":-0.15625,"y":0.9375,"z":221},{"x":-0.09375,"y":0.9375,"z":217},{"x":-0.03125,"y":0.9375,"z":214},{"x":0.03125,"y":0.9375,"z":211},{"x":0.09375,"y":0.9375,"z":208},{"x":0.15625,"y":0.9375,"z":206},{"x":0.21875,"y":0.9375,"z":203},{"x":0.28125,"y":0.9375,"z":202},{"x":0.34375,"y":0.9375,"z":200},{"x":0.40625,"y":0.9375,"z":199},{"x":0.46875,"y":0.9375,"z":198},{"x":0.53125,"y":0.9375,"z":197},{"x":0.59375,"y":0.9375,"z":197},{"x":0.65625,"y":0.9375,"z":197},{"x":0.71875,"y":0.9375,"z":197},{"x":0.78125,"y":0.9375,"z":197},{"x":0.84375,"y":0.9375,"z":198},{"x":0.90625,"y":0.9375,"z":199},{"x":0.96875,"y":0.9375,"z":201}
]},
"encoding":{
"x":{"field":"x","type":"quantitative","scale":{"domain":[-1,1],"nice":false,"zero":false},"axis":{"title":"X1: Pressure","values":[-1,-0.5,0,0.5,1],"format":".2f","labelExpr":"replace(datum.label, '\u2212', '-')","labelPadding":6,"titlePadding":12}},
"y":{"field":"y","type":"quantitative","scale":{"domain":[-1,1],"nice":false,"zero":false},"axis":{"title":"X2: Duration (Time)","values":[-1,-0.5,0,0.5,1],"format":".2f","labelExpr":"replace(datum.label, '\u2212', '-')","labelPadding":4,"titlePadding":24}}
},
"layer":[
{"data":{"name":"grid"},"mark":{"type":"rect","width":15.8,"height":31,"clip":true},
"encoding":{"color":{"field":"z","type":"quantitative","legend":null,"scale":{"type":"linear","interpolate":"rgb","domain":[180,188,195,200,205,210,215,221,230,240,252,266,277,284,290,295,301,311,323],"range":["#3a50a1","#3d5ead","#416fb9","#4282c7","#3aa3de","#2fc1ef","#55c7e0","#7bccc8","#74c59a","#6ebf5c","#6ebd45","#74bf43","#93c83f","#c9da38","#f1e53a","#f5cd33","#f7a22b","#f37a28","#e6312a"]}}}},
{"data":{"name":"fine"},"mark":{"type":"rect","width":15.8,"height":15.6,"clip":true},
"encoding":{"color":{"field":"z","type":"quantitative","legend":null}}},
{"data":{"name":"contours"},"mark":{"type":"line","stroke":"#1a1a1a","strokeWidth":1.2,"interpolate":"catmull-rom","clip":true},
"encoding":{"detail":{"field":"c","type":"nominal"},"order":{"field":"o","type":"quantitative"}}},
{"data":{"name":"labels"},"mark":{"type":"rect","width":29,"height":17,"fill":"white","stroke":"#111111","strokeWidth":1},"encoding":{}},
{"data":{"name":"labels"},"mark":{"type":"text","font":"Liberation Sans","fontSize":12,"color":"#111111","align":"center","baseline":"middle"},"encoding":{"text":{"field":"t","type":"nominal"}}},
{"data":{"name":"points"},"mark":{"type":"circle","size":85,"fill":"#b31e1e","stroke":"#6e0f0f","strokeWidth":0.8,"opacity":1},"encoding":{}},
{"data":{"name":"runs"},"mark":{"type":"text","font":"Liberation Sans","fontSize":16,"color":"#24384a","align":"right","baseline":"middle","dx":-7,"dy":-4},"encoding":{"text":{"field":"t","type":"nominal"}}}
]
}
